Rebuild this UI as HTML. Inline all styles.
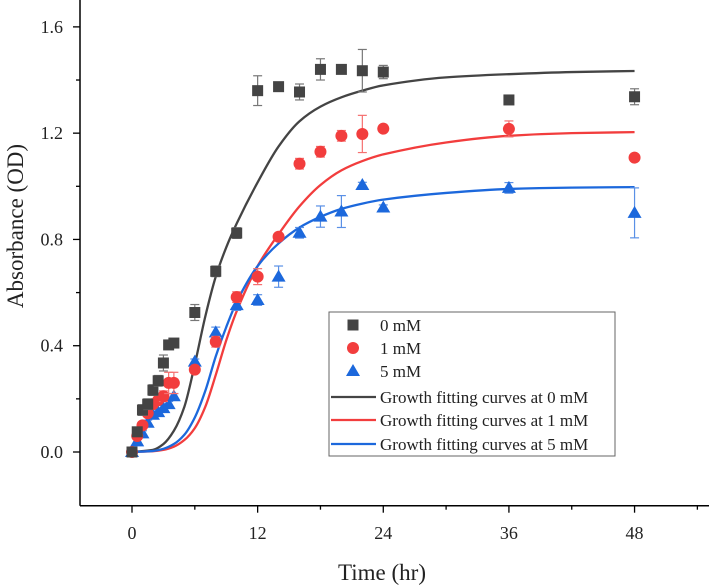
<!DOCTYPE html>
<html><head><meta charset="utf-8"><style>
html,body{margin:0;padding:0;background:#fff;}
svg{display:block;font-family:"Liberation Serif",serif;}
</style></head><body>
<svg id="chart" width="709" height="586" viewBox="0 0 709 586">
<g id="axes"></g><g id="curves"></g><g id="points"></g><g id="legend"></g>
</svg>
<script>
const times=[0,0.5,1,1.5,2,2.5,3,3.5,4,6,8,10,12,14,16,18,20,22,24,36,48];
const od0=[0,0.076,0.158,0.18,0.233,0.268,0.335,0.403,0.41,0.525,0.68,0.824,1.36,1.375,1.355,1.44,1.44,1.435,1.43,1.325,1.337];
const od1=[0,0.06,0.1,0.146,0.18,0.195,0.21,0.26,0.26,0.31,0.415,0.583,0.66,0.81,1.085,1.13,1.19,1.197,1.217,1.216,1.108];
const od5=[0,0.04,0.07,0.11,0.14,0.15,0.165,0.18,0.21,0.34,0.45,0.553,0.572,0.66,0.825,0.886,0.905,1.005,0.92,0.994,0.9];
const err0=[0,0.01,0.02,0.02,0.02,0.02,0.03,0.01,0.01,0.03,0.02,0.02,0.056,0.01,0.03,0.04,0.01,0.08,0.025,0.01,0.03];
const err1=[0,0.01,0.01,0.01,0.01,0.01,0.02,0.04,0.04,0.01,0.02,0.02,0.03,0.01,0.02,0.02,0.02,0.07,0.01,0.03,0.01];
const err5=[0,0.01,0.01,0.01,0.01,0.01,0.01,0.01,0.01,0.01,0.02,0.02,0.02,0.04,0.02,0.04,0.06,0.01,0.01,0.02,0.094];
const fitT=[0,2,3,4,5,6,7,8,9,10,12,14,16,18,20,22,24,30,36,42,48];
const fit0=[0,0.008,0.03,0.08,0.17,0.33,0.51,0.66,0.77,0.86,1.015,1.15,1.245,1.30,1.335,1.36,1.38,1.41,1.422,1.43,1.434];
const fit1=[0,0.003,0.008,0.02,0.045,0.09,0.17,0.29,0.42,0.53,0.7,0.82,0.925,1.005,1.06,1.095,1.12,1.165,1.19,1.2,1.204];
const fit5=[0,0.004,0.012,0.03,0.065,0.13,0.23,0.36,0.47,0.565,0.70,0.785,0.845,0.885,0.915,0.935,0.95,0.975,0.99,0.995,0.997];
const xTicks=[0,12,24,36,48];
const yTicks=[0,0.4,0.8,1.2,1.6];

const NS="http://www.w3.org/2000/svg";
function X(t){return 132+10.47*t;}
function Y(v){return 452-265.7*v;}
function mk(tag,attrs,parent,text){const e=document.createElementNS(NS,tag);for(const k in attrs)e.setAttribute(k,attrs[k]);if(text!==undefined)e.textContent=text;parent.appendChild(e);return e;}
const axes=document.getElementById('axes');
let xl=mk('line',{x1:80,y1:505.7,x2:709,y2:505.7,stroke:'#000','stroke-width':1.5},axes);


let yl=mk('line',{x1:80,y1:0,x2:80,y2:505.7,stroke:'#000','stroke-width':1.5},axes);


for(let t=-6;t<=54;t+=6){const maj=xTicks.includes(t);if(X(t)<82)continue;
 mk('line',{x1:X(t),y1:505.7,x2:X(t),y2:505.7+(maj?7:4),stroke:'#000','stroke-width':1.3},axes);}
xTicks.forEach(t=>{const e=mk('text',{x:X(t),y:539,'font-size':18,'text-anchor':'middle',fill:'#222'},axes,String(t));
 
 });
for(let v=0;v<=1.8;v+=0.2){const vv=Math.round(v*10)/10;const maj=Math.abs(vv*10%4)<0.01;
 mk('line',{x1:80,y1:Y(vv),x2:80-(maj?7:4),y2:Y(vv),stroke:'#000','stroke-width':1.3},axes);}
yTicks.forEach(v=>{const e=mk('text',{x:63,y:Y(v)+6,'font-size':18,'text-anchor':'end',fill:'#222'},axes,v.toFixed(1));
 
 });
let xt=mk('text',{x:382,y:580,'font-size':23,'text-anchor':'middle',fill:'#222'},axes,'Time (hr)');


let yt=mk('text',{x:0,y:0,'font-size':23,'text-anchor':'middle',fill:'#222',transform:'translate(23,226) rotate(-90)'},axes,'Absorbance (OD)');



function smooth(ts,vs){
 const n=ts.length,m=[],d=[];
 for(let i=0;i<n-1;i++)d.push((vs[i+1]-vs[i])/(ts[i+1]-ts[i]));
 for(let i=0;i<n;i++){if(i===0)m.push(d[0]);else if(i===n-1)m.push(d[n-2]);
  else m.push(d[i-1]*d[i]<=0?0:2/(1/d[i-1]+1/d[i]));}
 let p='M'+X(ts[0])+','+Y(vs[0]);
 for(let i=0;i<n-1;i++){const h=ts[i+1]-ts[i];
  p+=` C${X(ts[i]+h/3)},${Y(vs[i]+m[i]*h/3)} ${X(ts[i+1]-h/3)},${Y(vs[i+1]-m[i+1]*h/3)} ${X(ts[i+1])},${Y(vs[i+1])}`;}
 return p;}
const series=[
 {name:'0mm',vals:od0,err:err0,fit:fit0,col:'#444444',ecol:'#777',shape:'sq'},
 {name:'1mm',vals:od1,err:err1,fit:fit1,col:'#f23d3d',ecol:'#f57070',shape:'ci'},
 {name:'5mm',vals:od5,err:err5,fit:fit5,col:'#1c68dc',ecol:'#5a90e6',shape:'tr'}];
const cg=document.getElementById('curves'),pg=document.getElementById('points');
function marker(shape,x,y,col,parent){
 if(shape==='sq')return mk('rect',{x:x-5.5,y:y-5.5,width:11,height:11,fill:col},parent);
 if(shape==='ci')return mk('circle',{cx:x,cy:y,r:6,fill:col},parent);
 return mk('polygon',{points:`${x},${y-7} ${x-7},${y+5} ${x+7},${y+5}`,fill:col},parent);}
series.slice().reverse().forEach(s=>{
 const g=mk('g',{},pg);
 
 
 times.forEach((t,i)=>{const x=X(t),y=Y(s.vals[i]),e=s.err[i]*265.7;
  if(e>1.5){mk('line',{x1:x,y1:y-e,x2:x,y2:y+e,stroke:s.ecol,'stroke-width':1.2},g);
   mk('line',{x1:x-4.5,y1:y-e,x2:x+4.5,y2:y-e,stroke:s.ecol,'stroke-width':1.2},g);
   mk('line',{x1:x-4.5,y1:y+e,x2:x+4.5,y2:y+e,stroke:s.ecol,'stroke-width':1.2},g);}
  const m=marker(s.shape,x,y,s.col,g);
  
  });
});
series.forEach(s=>{const p=mk('path',{d:smooth(fitT,s.fit),fill:'none',stroke:s.col,'stroke-width':2.3},cg);
 
 });
const lg=document.getElementById('legend');


mk('rect',{x:329,y:312,width:286,height:144,fill:'#fff',stroke:'#666','stroke-width':1},lg);
const labels=['0 mM','1 mM','5 mM','Growth fitting curves at 0 mM','Growth fitting curves at 1 mM','Growth fitting curves at 5 mM'];
const rows=[325,348,371,397,420,444];
labels.forEach((l,i)=>{const s=series[i%3];const g=mk('g',{},lg);
 
 
 if(i<3)marker(s.shape,353,rows[i],s.col,g);else mk('line',{x1:331,y1:rows[i],x2:376,y2:rows[i],stroke:s.col,'stroke-width':2.3},g);
 mk('text',{x:380,y:rows[i]+6,'font-size':17,fill:'#222'},g,l);});
</script>
</body></html>
